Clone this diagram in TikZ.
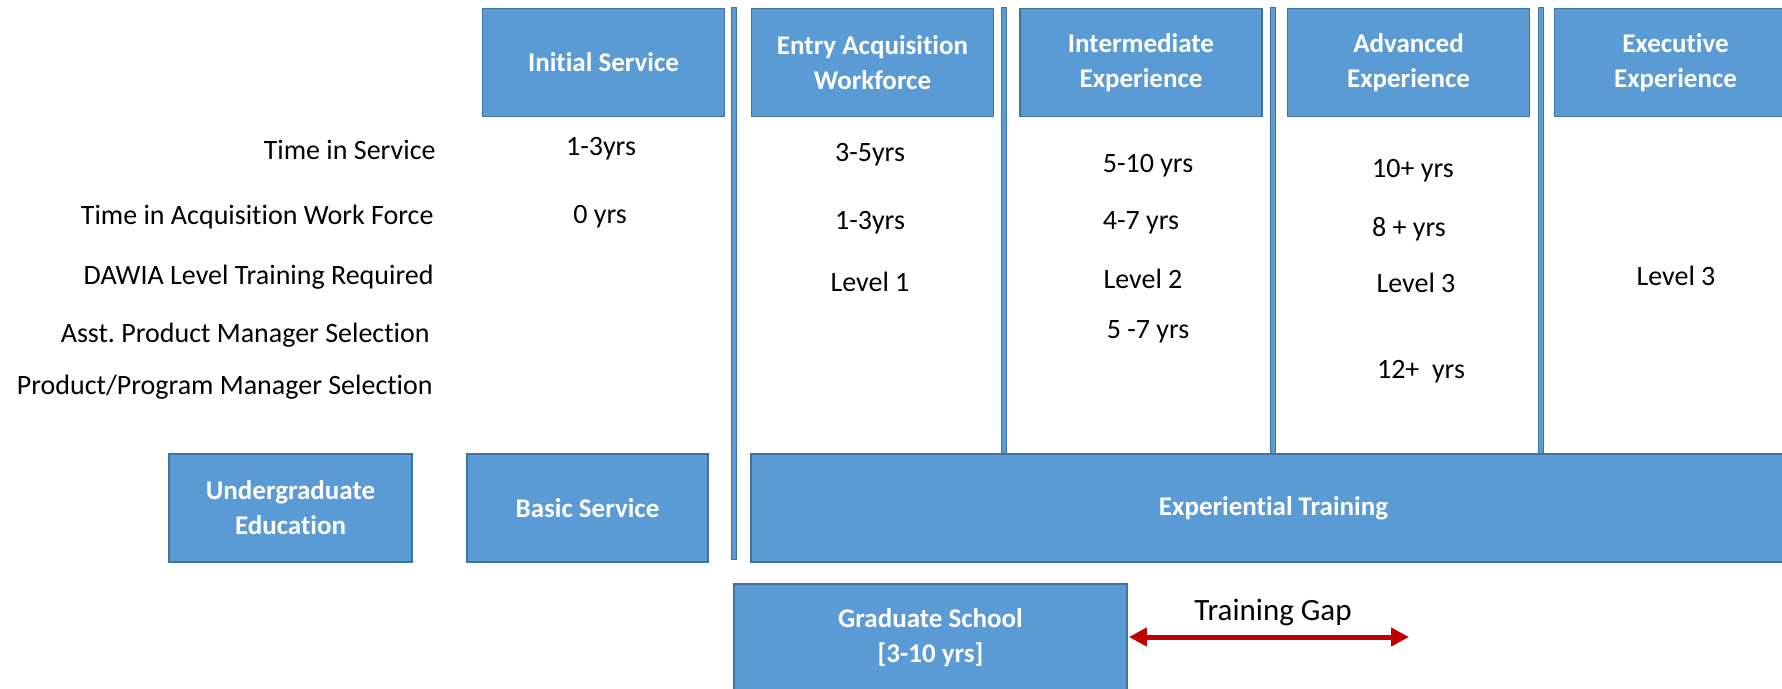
\documentclass[tikz,border=0pt]{standalone}
\usepackage{fontspec}
\setmainfont{Carlito}[Ligatures=NoCommon]
\usetikzlibrary{arrows.meta}
\definecolor{boxblue}{HTML}{5B9BD5}
\definecolor{boxedge}{HTML}{41719C}
\definecolor{gapred}{HTML}{C00000}

\begin{document}
\begin{tikzpicture}[x=0.5pt, y=-0.5pt,
	stage/.style={draw=boxedge, line width=0.7pt, fill=boxblue, text=white, align=center, inner sep=0pt,
		font=\fontsize{13.5}{17.5}\selectfont\bfseries, minimum width=121pt, minimum height=54pt},
	rowlabel/.style={anchor=east, inner sep=0pt, font=\fontsize{14}{16}\selectfont, text height=1.38ex, text depth=0pt},
	cell/.style={inner sep=0pt, font=\fontsize{14}{16}\selectfont, text height=1.38ex, text depth=0pt},
	divider/.style={draw=boxedge, line width=0.5pt, fill=boxblue}]
		%%%%% START %%%%%
		
		\useasboundingbox (0, 0) rectangle (1782, 689);
		
		\draw[divider] (731.5, 8) rectangle (736.5, 559);
		\draw[divider] (1001.5, 8) rectangle (1006.5, 454);
		\draw[divider] (1270.5, 8) rectangle (1275.5, 454);
		\draw[divider] (1538.5, 8) rectangle (1543.5, 454);
		
		\node[stage] (initial) at (603.5, 62.5) {Initial Service};
		\node[stage] (entry) at (872.5, 62.5) {Entry Acquisition\\Workforce};
		\node[stage] (inter) at (1141, 62.5) {Intermediate\\Experience};
		\node[stage] (advanced) at (1408.5, 62.5) {Advanced\\Experience};
		\node[stage] (exec) at (1675.5, 62.5) {Executive\\Experience};
		
		\node[rowlabel] (tis) at (436, 153) {Time in Service};
		\node[rowlabel] (tiaw) at (434, 218) {Time in Acquisition Work Force};
		\node[rowlabel] (dawia) at (434, 278) {DAWIA Level Training Required};
		\node[rowlabel] (apm) at (430, 336) {Asst.\ Product Manager Selection};
		\node[rowlabel] (ppm) at (433, 388) {Product/Program Manager Selection};
		
		\node[cell] (initialtis) at (601, 149) {1-3yrs};
		\node[cell] (initialtiaw) at (600, 217) {0 yrs};
		
		\node[cell] (entrytis) at (870, 155) {3-5yrs};
		\node[cell] (entrytiaw) at (870, 223) {1-3yrs};
		\node[cell] (entrydawia) at (870, 285) {Level 1};
		
		\node[cell] (intertis) at (1148, 166) {5-10 yrs};
		\node[cell] (intertiaw) at (1141, 223) {4-7 yrs};
		\node[cell] (interdawia) at (1143, 282) {Level 2};
		\node[cell] (interapm) at (1148, 332) {5 -7 yrs};
		
		\node[cell] (advancedtis) at (1413, 171) {10+ yrs};
		\node[cell] (advancedtiaw) at (1409, 230) {8 + yrs};
		\node[cell] (advanceddawia) at (1416, 286) {Level 3};
		\node[cell] (advancedppm) at (1421, 372) {12+~ yrs};
		
		\node[cell] (execdawia) at (1676, 279) {Level 3};
		
		\node[stage, minimum width=121.5pt] (undergrad) at (290.5, 508) {Undergraduate\\Education};
		\node[stage, minimum width=120.5pt] (basic) at (587.5, 508) {Basic Service};
		\node[stage, minimum width=522.5pt] (experiential) at (1273.5, 508) {Experiential Training};
		
		\node[stage, minimum width=196.5pt] (grad) at (930.5, 638) {Graduate School\\{}[3-10 yrs]};
		
		\coordinate (gapend) at (1409, 637);
		\draw[line width=2.5pt, color=gapred, {Triangle[length=9pt, width=9pt]}-{Triangle[length=9pt, width=9pt]}] ([xshift=0.6pt]grad.east |- gapend) -- (gapend);
		\node[font=\fontsize{15.5}{18}\selectfont, inner sep=0pt] (gaplabel) at (1273, 612) {Training Gap};
		
		%%%%% END %%%%%
\end{tikzpicture}
\end{document}
